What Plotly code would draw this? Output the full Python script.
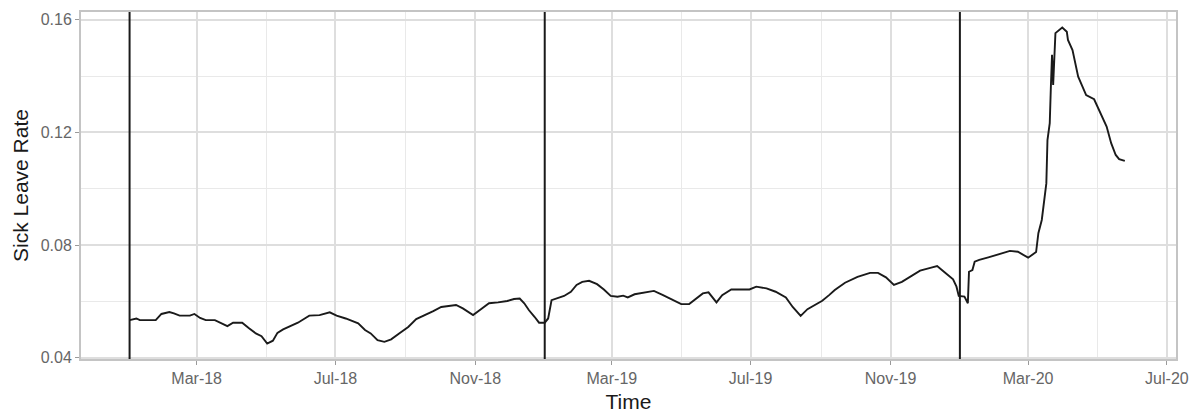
import plotly.graph_objects as go

# Sick leave rate series (date, rate)
dates = [
    "2018-01-01", "2018-01-07", "2018-01-10", "2018-01-24", "2018-01-29", "2018-02-05",
    "2018-02-09", "2018-02-14", "2018-02-23", "2018-02-27", "2018-03-04", "2018-03-09",
    "2018-03-17", "2018-03-22", "2018-03-28", "2018-04-02", "2018-04-10", "2018-04-16",
    "2018-04-22", "2018-04-27", "2018-04-30", "2018-05-02", "2018-05-07", "2018-05-11",
    "2018-05-16", "2018-05-23", "2018-05-29", "2018-06-04", "2018-06-08", "2018-06-17",
    "2018-06-26", "2018-07-02", "2018-07-10", "2018-07-21", "2018-07-27", "2018-08-01",
    "2018-08-07", "2018-08-13", "2018-08-19", "2018-08-26", "2018-09-03", "2018-09-10",
    "2018-09-17", "2018-09-25", "2018-10-02", "2018-10-08", "2018-10-15", "2018-10-21",
    "2018-10-25", "2018-10-30", "2018-11-05", "2018-11-13", "2018-11-21", "2018-11-29",
    "2018-12-05", "2018-12-10", "2018-12-14", "2018-12-18", "2018-12-23", "2018-12-27",
    "2019-01-01", "2019-01-04", "2019-01-07", "2019-01-11", "2019-01-18", "2019-01-24",
    "2019-01-29", "2019-02-03", "2019-02-09", "2019-02-16", "2019-02-22", "2019-02-28",
    "2019-03-06", "2019-03-11", "2019-03-15", "2019-03-21", "2019-03-30", "2019-04-07",
    "2019-04-15", "2019-04-24", "2019-05-01", "2019-05-08", "2019-05-14", "2019-05-20",
    "2019-05-25", "2019-06-01", "2019-06-06", "2019-06-14", "2019-06-21", "2019-06-30",
    "2019-07-06", "2019-07-15", "2019-07-23", "2019-08-01", "2019-08-07", "2019-08-14",
    "2019-08-20", "2019-08-29", "2019-09-02", "2019-09-08", "2019-09-13", "2019-09-22",
    "2019-10-03", "2019-10-14", "2019-10-21", "2019-10-28", "2019-11-04", "2019-11-11",
    "2019-11-19", "2019-11-27", "2019-12-06", "2019-12-12", "2019-12-18", "2019-12-26",
    "2019-12-29", "2019-12-31", "2020-01-05", "2020-01-08", "2020-01-09", "2020-01-12",
    "2020-01-14", "2020-01-18", "2020-01-26", "2020-02-02", "2020-02-09", "2020-02-14",
    "2020-02-21", "2020-03-01", "2020-03-08", "2020-03-10", "2020-03-13", "2020-03-15",
    "2020-03-17", "2020-03-18", "2020-03-20", "2020-03-21", "2020-03-22", "2020-03-23",
    "2020-03-24", "2020-03-25", "2020-03-31", "2020-04-04", "2020-04-05", "2020-04-09",
    "2020-04-14", "2020-04-21", "2020-04-28", "2020-05-03", "2020-05-09", "2020-05-13",
    "2020-05-17", "2020-05-20", "2020-05-25",
]
rates = [
    0.0533, 0.0539, 0.0533, 0.0533, 0.0555, 0.0562,
    0.0557, 0.0549, 0.0549, 0.0555, 0.0541, 0.0533,
    0.0533, 0.0524, 0.0512, 0.0524, 0.0524, 0.0504,
    0.0486, 0.0476, 0.0462, 0.0450, 0.0460, 0.0488,
    0.0500, 0.0512, 0.0524, 0.0539, 0.0549, 0.0551,
    0.0561, 0.0549, 0.0539, 0.0522, 0.0498, 0.0486,
    0.0462, 0.0456, 0.0465, 0.0486, 0.0509, 0.0537,
    0.0549, 0.0565, 0.0580, 0.0584, 0.0587, 0.0575,
    0.0563, 0.0551, 0.0569, 0.0593, 0.0596, 0.0601,
    0.0608, 0.0610, 0.0593, 0.0569, 0.0545, 0.0524,
    0.0524, 0.0539, 0.0604, 0.0610, 0.0619, 0.0634,
    0.0658, 0.0669, 0.0673, 0.0661, 0.0642, 0.0619,
    0.0616, 0.0620, 0.0614, 0.0625, 0.0632, 0.0637,
    0.0622, 0.0604, 0.0590, 0.0590, 0.0610, 0.0628,
    0.0632, 0.0596, 0.0622, 0.0642, 0.0642, 0.0642,
    0.0652, 0.0646, 0.0634, 0.0614, 0.0580, 0.0548,
    0.0572, 0.0592, 0.0602, 0.0622, 0.0640, 0.0666,
    0.0687, 0.0701, 0.0701, 0.0685, 0.0658, 0.0669,
    0.0690, 0.0709, 0.0719, 0.0725, 0.0705, 0.0678,
    0.0652, 0.0619, 0.0617, 0.0593, 0.0705, 0.0711,
    0.0741, 0.0747, 0.0756, 0.0764, 0.0773, 0.0779,
    0.0776, 0.0755, 0.0775, 0.0842, 0.0889, 0.0960,
    0.1019, 0.1173, 0.1233, 0.1363, 0.1476, 0.1369,
    0.1458, 0.1553, 0.1573, 0.1558, 0.1529, 0.1493,
    0.1398, 0.1333, 0.1318, 0.1274, 0.1221, 0.1162,
    0.1120, 0.1105, 0.1099,
]

# Year boundaries marked with vertical reference lines
vline_dates = ["2018-01-01", "2019-01-01", "2020-01-01"]

x_range = ["2017-11-19 07:00", "2020-07-09"]
y_range = [0.0395, 0.1628]
y_ticks = [0.04, 0.08, 0.12, 0.16]

fig = go.Figure()
fig.add_trace(go.Scatter(
    x=dates, y=rates, mode="lines",
    line=dict(color="#1a1a1a", width=1.9),
    showlegend=False,
))

for d in vline_dates:
    fig.add_shape(
        type="line", xref="x", yref="paper",
        x0=d, x1=d, y0=0, y1=1,
        line=dict(color="#1a1a1a", width=2),
    )

font_family = "Liberation Sans, Arial, sans-serif"

fig.update_layout(
    width=1192, height=414,
    margin=dict(l=81, r=16, t=12, b=55),
    paper_bgcolor="white", plot_bgcolor="white",
    font=dict(family=font_family, color="#666666", size=16),
)

fig.update_xaxes(
    type="date", range=x_range, automargin=False,
    tick0="2018-03-01", dtick="M4", tickformat="%b-%y",
    ticks="outside", ticklen=4, tickcolor="#9a9a9a", tickwidth=1.2,
    tickfont=dict(size=16, color="#666666"),
    showgrid=True, gridcolor="#dedede", gridwidth=1.5,
    minor=dict(tick0="2018-01-01", dtick="M4", showgrid=True,
               gridcolor="#e9e9e9", gridwidth=1.2),
    showline=True, mirror=True, linecolor="#c4c4c4", linewidth=2,
    zeroline=False,
    title=dict(text="Time", font=dict(size=21, color="#1a1a1a"), standoff=8),
)

fig.update_yaxes(
    range=y_range, tickvals=y_ticks, tickformat=".2f", automargin=False,
    ticks="outside", ticklen=4, tickcolor="#9a9a9a", tickwidth=1.2,
    tickfont=dict(size=16, color="#666666"),
    showgrid=True, gridcolor="#dedede", gridwidth=1.5,
    minor=dict(tickvals=[0.06, 0.10, 0.14], showgrid=True,
               gridcolor="#e9e9e9", gridwidth=1.2),
    showline=True, mirror=True, linecolor="#c4c4c4", linewidth=2,
    zeroline=False,
    title=dict(text="Sick Leave Rate", font=dict(size=21, color="#1a1a1a"), standoff=6),
)

fig.write_html("out.html")
